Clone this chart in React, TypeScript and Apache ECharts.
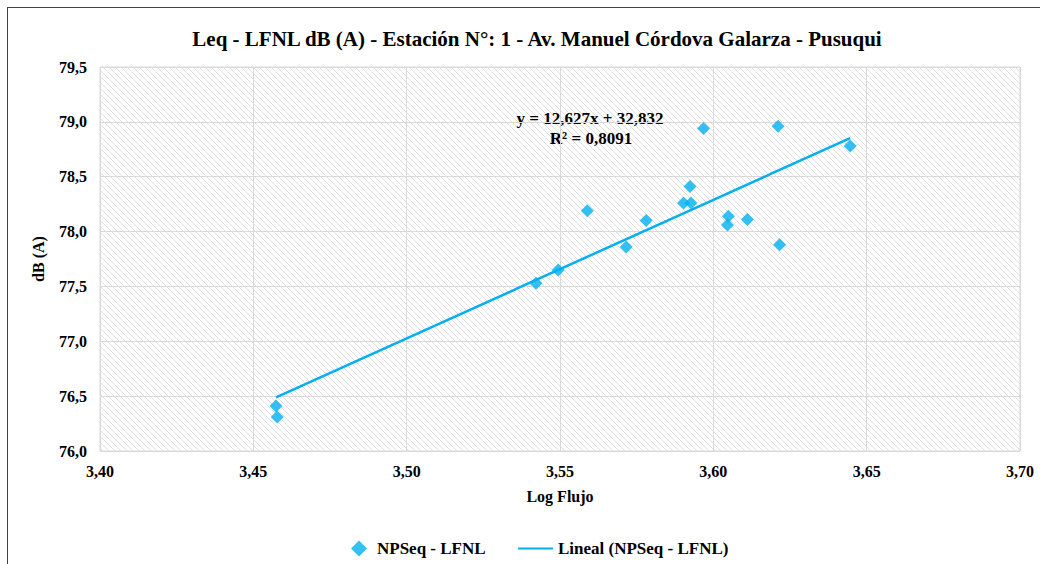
import React, { useEffect, useRef } from "react";
import * as echarts from "echarts";

const logFlujo = [3.4574, 3.4578, 3.5422, 3.5494, 3.5589, 3.5716, 3.5781, 3.5903, 3.5924, 3.5927, 3.5968, 3.6046, 3.6049, 3.6111, 3.6211, 3.6216, 3.6446];
const dBA = [76.41, 76.31, 77.53, 77.65, 78.19, 77.86, 78.10, 78.26, 78.41, 78.26, 78.94, 78.06, 78.14, 78.11, 78.96, 77.88, 78.78];
const slope = 12.627;
const intercept = 32.832;
const equationText = "y = 12,627x + 32,832";
const r2Text = "R² = 0,8091";
const titleText = "Leq - LFNL dB (A) - Estación N°: 1 - Av. Manuel Córdova Galarza - Pusuqui";
const seriesName = "NPSeq - LFNL";
const trendName = "Lineal (NPSeq - LFNL)";

const FONT = "'Liberation Serif', 'Times New Roman', serif";
const BLUE = "#00B0F0";

function makeHatch() {
  const n = 6;
  const c = document.createElement("canvas");
  c.width = n;
  c.height = n;
  const ctx = c.getContext("2d")!;
  ctx.fillStyle = "#ffffff";
  ctx.fillRect(0, 0, n, n);
  ctx.strokeStyle = "#e0e0e0";
  ctx.lineWidth = 1;
  ctx.beginPath();
  ctx.moveTo(-1, -1);
  ctx.lineTo(n + 1, n + 1);
  ctx.moveTo(-1 - n, -1);
  ctx.lineTo(1, n + 1);
  ctx.moveTo(n - 1, -1);
  ctx.lineTo(2 * n + 1, n + 1);
  ctx.stroke();
  return c;
}

export default function App() {
  const ref = useRef<HTMLDivElement>(null);
  useEffect(() => {
    document.body.style.margin = "0";
    document.body.style.overflow = "hidden";
    const chart = echarts.init(ref.current!, undefined, { renderer: "svg" });
    const points = logFlujo.map((x, i) => [x, dBA[i]]);
    const minX = Math.min(...logFlujo);
    const maxX = Math.max(...logFlujo);
    const trend = [
      [minX, slope * minX + intercept],
      [maxX, slope * maxX + intercept],
    ];
    const hatch = makeHatch();
    const bold = { fontFamily: FONT, fontWeight: "bold" as const, color: "#000" };
    chart.setOption({
      animation: false,
      backgroundColor: "#fff",
      textStyle: { fontFamily: FONT },
      title: {
        text: titleText,
        left: 524,
        top: 15,
        textAlign: "center",
        textStyle: { ...bold, fontSize: 21 },
      },
      grid: {
        left: 92,
        top: 59,
        width: 920,
        height: 384,
        show: true,
        backgroundColor: { image: hatch, repeat: "repeat", imageWidth: 6, imageHeight: 6 },
        borderColor: "#d9d9d9",
        borderWidth: 1,
      },
      xAxis: {
        type: "value",
        min: 3.4,
        max: 3.7,
        interval: 0.05,
        name: "Log Flujo",
        nameLocation: "middle",
        nameGap: 37,
        nameTextStyle: { ...bold, fontSize: 16 },
        axisLine: { show: false },
        axisTick: { show: false },
        axisLabel: {
          ...bold,
          fontSize: 16,
          margin: 12,
          formatter: (v: number) => v.toFixed(2).replace(".", ","),
        },
        splitLine: { show: true, lineStyle: { color: "#d9d9d9", width: 1 } },
      },
      yAxis: {
        type: "value",
        min: 76,
        max: 79.5,
        interval: 0.5,
        name: "dB (A)",
        nameLocation: "middle",
        nameGap: 54,
        nameRotate: 90,
        nameTextStyle: { ...bold, fontSize: 16 },
        axisLine: { show: false },
        axisTick: { show: false },
        axisLabel: {
          ...bold,
          fontSize: 16,
          margin: 13,
          formatter: (v: number) => v.toFixed(1).replace(".", ","),
        },
        splitLine: { show: true, lineStyle: { color: "#d9d9d9", width: 1 } },
      },
      legend: [
        {
          left: 338,
          top: 527,
          itemWidth: 16,
          itemHeight: 16,
          textStyle: { ...bold, fontSize: 17, padding: [0, 0, 0, 5] },
          data: [{ name: seriesName, icon: "diamond", itemStyle: { color: BLUE } }],
        },
        {
          left: 505,
          top: 527,
          itemWidth: 35,
          itemHeight: 2,
          textStyle: { ...bold, fontSize: 17, padding: [0, 0, 0, 0] },
          data: [{ name: trendName, icon: "rect", itemStyle: { color: BLUE } }],
        },
      ],
      series: [
        {
          name: seriesName,
          type: "scatter",
          symbol: "diamond",
          symbolSize: 13,
          itemStyle: { color: BLUE },
          data: points,
          z: 3,
        },
        {
          name: trendName,
          type: "line",
          symbol: "none",
          showSymbol: false,
          lineStyle: { color: BLUE, width: 2.5 },
          itemStyle: { color: BLUE },
          data: trend,
          z: 2,
        },
      ],
      graphic: [
        {
          type: "text",
          x: 582,
          y: 102,
          style: { text: equationText, font: `bold 17px ${FONT}`, fill: "#000", align: "center" },
        },
        {
          type: "text",
          x: 583,
          y: 122,
          style: { text: r2Text, font: `bold 17px ${FONT}`, fill: "#000", align: "center" },
        },
      ],
    });
    return () => chart.dispose();
  }, []);
  return (
    <div
      style={{
        position: "fixed",
        left: 7,
        top: 7,
        width: 1032,
        height: 556,
        border: "1px solid #404040",
        background: "#fff",
      }}
    >
      <div ref={ref} style={{ width: 1032, height: 556 }} />
    </div>
  );
}
